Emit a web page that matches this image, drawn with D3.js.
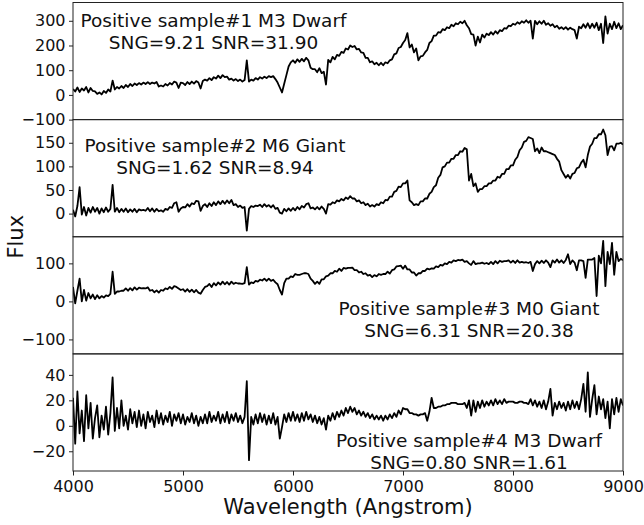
<!DOCTYPE html>
<html>
<head>
<meta charset="utf-8">
<script src="https://cdn.jsdelivr.net/npm/d3@7"></script>
<style>
    body { margin: 0; background: #fff; }
    svg { display: block; font-family: "DejaVu Sans", sans-serif; }
</style>
</head>
<body>
<svg id="spectra" width="644" height="525"></svg>
<script>
// wavelength grid of the spectra (Angstrom)
var waveStart = 4000;
var waveStep = 20;

// flux, one value every 20 A from 4000 to 9000
var flux1 = [
    24, 14, 30, 12, 26, 18, 32, 10, 28, 16,
    14, 4, 10, 2, 16, 8, 22, 14, 58, 22,
    32, 26, 36, 28, 40, 32, 44, 36, 46, 40,
    48, 42, 50, 44, 52, 44, 50, 46, 52, 34,
    38, 34, 44, 38, 48, 42, 54, 50, 28, 50,
    48, 40, 52, 44, 54, 46, 56, 50, 26, 56,
    62, 58, 68, 60, 72, 66, 78, 68, 80, 72,
    74, 62, 66, 58, 64, 56, 62, 54, 60, 140,
    54, 62, 58, 68, 62, 72, 66, 74, 68, 76,
    72, 76, 64, 50, 30, 10, 45, 80, 115, 132,
    140, 130, 144, 134, 146, 136, 150, 140, 110, 104,
    104, 92, 108, 88, 94, 42, 142, 132, 154, 144,
    162, 158, 174, 170, 188, 184, 200, 194, 198, 184,
    186, 172, 170, 150, 150, 132, 136, 124, 130, 120,
    130, 120, 132, 128, 140, 144, 164, 168, 190, 194,
    210, 222, 250, 192, 204, 172, 188, 140, 156, 158,
    172, 182, 210, 218, 240, 240, 254, 252, 266, 262,
    274, 270, 284, 278, 290, 286, 296, 290, 300, 282,
    270, 246, 244, 200, 236, 212, 244, 232, 248, 242,
    254, 244, 258, 248, 262, 258, 270, 268, 280, 278,
    288, 284, 294, 288, 298, 292, 302, 292, 300, 228,
    300, 286, 298, 288, 300, 284, 290, 280, 286, 274,
    280, 268, 274, 266, 274, 264, 272, 266, 262, 228,
    276, 270, 286, 272, 290, 270, 288, 272, 292, 262,
    288, 210, 318, 248, 288, 266, 296, 270, 290, 266,
    282
];

var flux2 = [
    8, -6, 16, 56, -2, 14, -4, 12, 2, 14,
    4, 12, 0, 11, 3, 13, 4, 10, 61, 4,
    12, 3, 10, 4, 11, 3, 9, 4, 10, 3,
    9, 7, 8, 6, 12, 5, 11, 4, 10, 5,
    7, 4, 10, 8, 14, 12, 22, 24, 4, 11,
    14, 13, 20, 15, 22, 20, 27, 26, 6, 16,
    20, 14, 22, 16, 24, 18, 26, 20, 27, 21,
    28, 22, 29, 18, 20, 14, 17, 12, 14, -36,
    10, 16, 14, 17, 16, 19, 14, 20, 15, 18,
    13, 18, 10, 12, 2, 0, 10, 5, 11, 6,
    12, 7, 14, 9, 16, 13, 20, 22, 11, 13,
    9, 14, 9, 15, 10, 0, 20, 19, 24, 22,
    28, 26, 31, 28, 34, 31, 37, 32, 32, 26,
    28, 22, 24, 18, 21, 15, 18, 15, 20, 18,
    24, 22, 29, 28, 36, 36, 46, 48, 57, 56,
    64, 64, 70, 28, 24, 18, 20, 18, 26, 26,
    32, 32, 42, 46, 56, 60, 76, 82, 98, 100,
    108, 108, 116, 116, 124, 124, 132, 131, 139, 136,
    70, 84, 58, 64, 46, 52, 52, 58, 58, 64,
    64, 70, 70, 78, 76, 84, 84, 94, 94, 102,
    102, 114, 120, 134, 140, 152, 154, 162, 160, 158,
    132, 138, 128, 140, 132, 132, 130, 128, 126, 124,
    116, 110, 92, 84, 76, 82, 74, 84, 86, 96,
    98, 108, 114, 98, 124, 142, 148, 160, 160, 168,
    168, 178, 166, 124, 142, 143, 134, 148, 148, 150,
    146
];

var flux3 = [
    38, -5, 28, 60, 0, 30, 2, 22, 8, 18,
    6, 16, 8, 14, 10, 16, 14, 20, 78, 20,
    26, 26, 28, 28, 34, 28, 35, 29, 37, 31,
    36, 34, 35, 34, 37, 28, 30, 24, 29, 23,
    30, 28, 34, 32, 38, 33, 40, 38, 34, 30,
    32, 26, 32, 25, 31, 24, 30, 23, 20, 30,
    38, 40, 46, 38, 48, 42, 50, 44, 52, 45,
    51, 44, 52, 46, 49, 47, 47, 46, 48, 90,
    44, 50, 48, 54, 52, 57, 55, 60, 54, 60,
    54, 57, 50, 45, 30, 18, 48, 60, 60, 66,
    64, 72, 70, 70, 72, 74, 74, 72, 60, 54,
    46, 52, 46, 58, 58, 66, 68, 74, 74, 80,
    78, 86, 80, 88, 86, 88, 88, 89, 82, 82,
    76, 78, 72, 74, 68, 70, 64, 69, 66, 72,
    70, 72, 72, 78, 73, 82, 84, 92, 93, 94,
    86, 94, 84, 84, 76, 76, 68, 74, 74, 80,
    80, 86, 84, 87, 86, 92, 90, 96, 94, 100,
    98, 104, 102, 108, 106, 109, 108, 110, 104, 106,
    100, 96, 106, 98, 100, 100, 102, 99, 101, 98,
    104, 98, 106, 100, 107, 104, 106, 106, 108, 102,
    107, 101, 108, 102, 104, 102, 103, 101, 104, 80,
    98, 106, 100, 107, 101, 108, 102, 90, 108, 102,
    110, 102, 108, 101, 109, 124, 98, 108, 102, 82,
    108, 108, 106, 62, 110, 110, 110, 114, 14, 120,
    100, 159, 40, 130, 98, 154, 70, 130, 106, 112,
    108
];

var flux4 = [
    22, -14, 27, -6, 12, -12, 24, -2, 18, -10,
    6, 16, -9, 8, -3, 15, -7, 10, 38, -4,
    14, -2, 20, 0, 8, -3, 13, 2, 11, -1,
    12, 0, 9, -2, 11, 3, 8, -1, 12, 2,
    10, 1, 8, 3, 11, 0, 9, 4, 10, 2,
    9, 1, 7, 3, 10, 2, 8, 0, 7, 2,
    9, 2, 11, 3, 8, 4, 11, 2, 9, 3,
    11, 2, 9, 4, 10, 3, 8, 2, 7, 35,
    -27, 7, 1, 9, 2, 10, 3, 9, 1, 8,
    2, 10, 1, 7, -10, -1, 9, 3, 10, 4,
    11, 4, 9, 3, 10, 4, 11, 5, 9, 3,
    8, 2, 7, 1, 6, -3, 8, 4, 10, 5,
    11, 7, 12, 8, 14, 10, 15, 11, 14, 9,
    12, 8, 11, 7, 10, 6, 9, 5, 8, 5,
    8, 4, 8, 5, 9, 6, 10, 7, 12, 9,
    14, 13, 13, 10, 10, 9, 9, 8, 9, 9,
    10, 4, 11, 22, 14, 14, 15, 15, 16, 16,
    17, 17, 18, 18, 18, 17, 17, 17, 18, 14,
    20, 8, 20, 11, 19, 14, 20, 15, 19, 16,
    20, 16, 21, 17, 20, 17, 21, 18, 19, 19,
    19, 18, 18, 19, 19, 18, 18, 17, 21, 16,
    20, 15, 19, 14, 20, 13, 19, 29, 8, 18,
    13, 19, 14, 18, 12, 19, 13, 20, 14, 19,
    13, 21, 33, 11, 42, 7, 21, 32, 9, 23,
    13, 21, 6, 19, -2, 21, 9, 22, 11, 21,
    16
];

var panelTitles = [
    ["Positive sample#1 M3 Dwarf", "SNG=9.21 SNR=31.90"],
    ["Positive sample#2 M6 Giant", "SNG=1.62 SNR=8.94"],
    ["Positive sample#3 M0 Giant", "SNG=6.31 SNR=20.38"],
    ["Positive sample#4 M3 Dwarf", "SNG=0.80 SNR=1.61"]
];
var yDomains = [[-100, 374], [-49, 199], [-138, 170], [-35.5, 56.5]];
var yTicks = [[-100, 0, 100, 200, 300], [0, 50, 100, 150], [-100, 0, 100], [-20, 0, 20, 40]];
var xTicks = [4000, 5000, 6000, 7000, 8000, 9000];

var spectra = spectra || {};
spectra.chart = (function (d3) {
    var fluxes = [flux1, flux2, flux3, flux4];
    var left = 73, right = 623, top = 2.5, bottom = 471;
    var panelH = (bottom - top) / fluxes.length;
    // where the two title lines sit, per panel: [x center, first baseline]
    var titlePos = [[213.5, 27], [215, 151.5], [469, 314.5], [469, 447]];

    function draw() {
        var svg = d3.select("#spectra");
        var x = d3.scaleLinear().domain([4000, 9000]).range([left, right]);

        fluxes.forEach(function (flux, i) {
            var y0 = top + i * panelH;
            var y = d3.scaleLinear().domain(yDomains[i]).range([y0 + panelH, y0]);

            svg.append("clipPath")
                .attr("id", "clip" + i)
                .append("rect")
                .attr("x", left).attr("y", y0)
                .attr("width", right - left).attr("height", panelH);

            var line = d3.line()
                .x(function (d, j) { return x(waveStart + j * waveStep); })
                .y(function (d) { return y(d); });

            svg.append("path")
                .datum(flux)
                .attr("clip-path", "url(#clip" + i + ")")
                .attr("fill", "none")
                .attr("stroke", "#000")
                .attr("stroke-width", 1.8)
                .attr("stroke-linejoin", "round")
                .attr("d", line);

            var yAxis = svg.append("g")
                .attr("transform", "translate(" + left + ",0)")
                .call(d3.axisLeft(y).tickValues(yTicks[i]).tickSize(4).tickPadding(3.5)
                    .tickFormat(d3.format("d")));
            styleAxis(yAxis);

            svg.append("rect")
                .attr("x", left).attr("y", y0)
                .attr("width", right - left).attr("height", panelH)
                .attr("fill", "none")
                .attr("stroke", "#222")
                .attr("stroke-width", 1);

            var title = svg.append("text")
                .attr("text-anchor", "middle")
                .attr("font-size", 18.5)
                .attr("fill", "#111");
            title.append("tspan")
                .attr("x", titlePos[i][0]).attr("y", titlePos[i][1])
                .text(panelTitles[i][0]);
            title.append("tspan")
                .attr("x", titlePos[i][0]).attr("y", titlePos[i][1] + 22.2)
                .text(panelTitles[i][1]);
        });

        var xAxis = svg.append("g")
            .attr("transform", "translate(0," + bottom + ")")
            .call(d3.axisBottom(x).tickValues(xTicks).tickSize(4.5).tickPadding(5.5)
                .tickFormat(d3.format("d")));
        styleAxis(xAxis);

        svg.append("text")
            .attr("x", (left + right) / 2)
            .attr("y", 514)
            .attr("text-anchor", "middle")
            .attr("font-size", 21)
            .attr("fill", "#111")
            .text("Wavelength (Angstrom)");

        svg.append("text")
            .attr("transform", "translate(23," + (top + bottom) / 2 + ") rotate(-90)")
            .attr("text-anchor", "middle")
            .attr("font-size", 21)
            .attr("fill", "#111")
            .text("Flux");
    }

    function styleAxis(g) {
        g.attr("font-family", null).attr("font-size", null);
        g.select(".domain").remove();
        g.selectAll(".tick line").attr("stroke", "#222");
        g.selectAll(".tick text").attr("font-size", 16).attr("fill", "#111");
    }

    draw();
    return { draw: draw };
})(d3);
</script>
</body>
</html>
